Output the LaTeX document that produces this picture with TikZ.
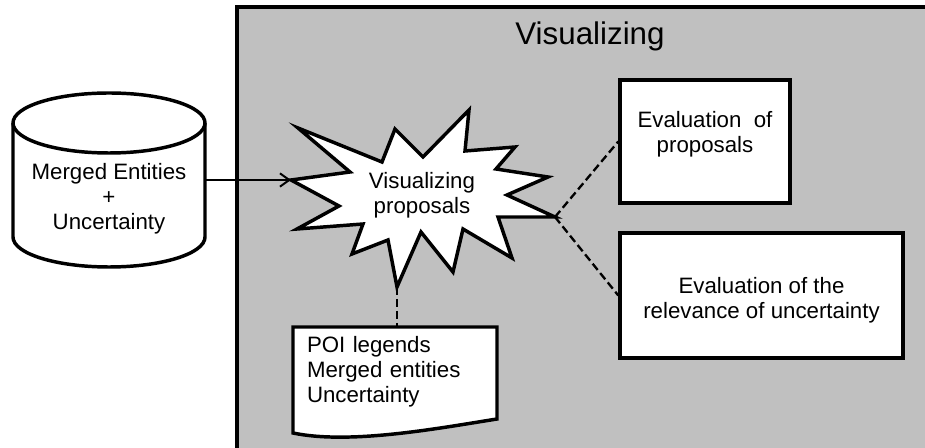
\documentclass[tikz,border=0pt]{standalone}
\usepackage{fontspec}
\setmainfont{Liberation Sans}
\usetikzlibrary{arrows.meta,backgrounds}

\definecolor{panelgray}{HTML}{C0C0C0}

\newcommand*{\bodyfont}{\fontsize{16.7}{18.75}\selectfont}
\newcommand*{\titlefont}{\fontsize{23.5}{26}\selectfont}
\newcommand*{\linesat}[3]{\raisebox{#1}[\height][\depth]{\begin{tabular}{@{}#2@{}}#3\end{tabular}}}

\begin{document}
\begin{tikzpicture}
[
	x=0.75pt,
	y=-0.75pt,
	outline/.style={line width=2.6pt},
	link/.style={line width=1.5pt},
	dashlink/.style={line width=1.75pt, dash pattern=on 6pt off 3pt},
	evalbox/.style={draw, outline, fill=white, inner sep=0pt, font=\bodyfont},
	dbnode/.style={inner sep=0pt, outer sep=0pt, minimum width=144pt, minimum height=130.5pt, font=\bodyfont},
	docnode/.style={inner xsep=10.5pt, inner ysep=0pt, outer sep=0pt, minimum width=153pt, minimum height=69pt, text width=132pt, align=left, font=\bodyfont}
]
	\useasboundingbox (0,0) rectangle (925,448);

	% panel
	\begin{pgfonlayer}{background}
		\fill[panelgray] (237,7) rectangle (925,448);
	\end{pgfonlayer}
	\draw[outline] (925,7) -- (237,7) -- (237,448);
	\node[font=\titlefont] (title) at (590,36) {Visualizing};

	% database
	\node[dbnode] (db) at (109,180) {\linesat{-14.5pt}{c}{Merged Entities\\+\\Uncertainty}};
	\begin{pgfonlayer}{background}
		\draw[outline, fill=white] ([yshift=-22.5pt]db.north west) -- ([yshift=22.5pt]db.south west)
			arc[start angle=180, end angle=360, x radius=72pt, y radius=22.5pt]
			-- ([yshift=-22.5pt]db.north east)
			arc[start angle=0, end angle=180, x radius=72pt, y radius=22.5pt] -- cycle;
		\draw[outline] ([yshift=-22.5pt]db.north west)
			arc[start angle=180, end angle=360, x radius=72pt, y radius=22.5pt];
	\end{pgfonlayer}

	% proposals star
	\draw[outline, fill=white] (291,180) -- (350,172) -- (298,128) -- (382,162) -- (395,129) -- (423,157)
		-- (469,110) -- (465,151) -- (515,147) -- (496,169) -- (548,177) -- (507,195)
		-- (555,217) -- (498,217) -- (512,258) -- (463,229) -- (453,272) -- (421,232)
		-- (397,287) -- (388,240) -- (352,254) -- (363,224) -- (297,229) -- (339,206) -- cycle;
	\coordinate (vizW) at (291,180);
	\coordinate (vizE) at (555,217);
	\coordinate (vizS) at (397,287);
	\node[font=\bodyfont] (viz) at (422,196) {\linesat{0pt}{c}{Visualizing\\proposals}};

	% legend document
	\node[docnode] (doc) at (395,373) {\linesat{0pt}{l}{POI legends\\Merged entities\\Uncertainty}};
	\begin{pgfonlayer}{background}
		\draw[outline, fill=white] (doc.south east) -- (doc.north east) -- (doc.north west)
			-- ([yshift=-10.5pt]doc.south west) .. controls (350,445) and (440,428) .. (doc.south east) -- cycle;
	\end{pgfonlayer}

	% evaluation boxes
	\node[evalbox, minimum width=127.5pt, minimum height=92.25pt] (evalprop) at (705,141.5)
		{\linesat{4.8pt}{c}{Evaluation\ \ of\\proposals}};
	\node[evalbox, minimum width=212.25pt, minimum height=93.75pt] (evalrel) at (761.5,295.5)
		{\linesat{-4pt}{c}{Evaluation of the\\relevance of uncertainty}};

	% connectors
	\draw[link, -{Straight Barb[length=7pt, width=10pt]}] (db.east) -- (vizW);
	\draw[dashlink] (vizS) -- (vizS |- doc.north);
	\draw[dashlink] (vizE) -- (evalprop.west);
	\draw[dashlink] (vizE) -- (evalrel.west);

\end{tikzpicture}
\end{document}
